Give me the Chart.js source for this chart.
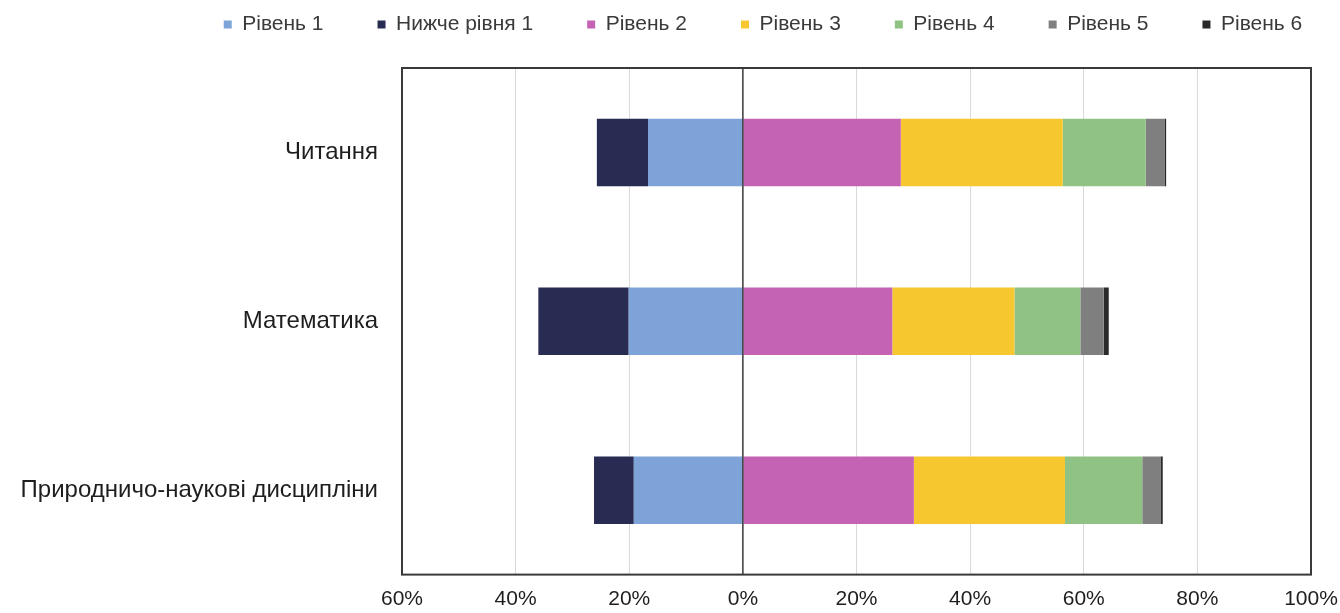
<!DOCTYPE html>
<html>
<head>
<meta charset="utf-8">
<title>Рівні досягнень</title>
<script src="https://cdn.jsdelivr.net/npm/chart.js@4/dist/chart.umd.min.js"></script>
<style>
  html, body { margin: 0; padding: 0; background: #fff; }
  #wrap { width: 1340px; height: 613px; }
</style>
</head>
<body>
<div id="wrap"><canvas id="levelsChart"></canvas></div>
<script>
// Categories and shares (%); left side is negative
const subjects = ['Читання', 'Математика', 'Природничо-наукові дисципліни'];
const level1 = [-16.7, -20.1, -19.2];
const belowLevel1 = [-9.0, -15.9, -7.0];
const level2 = [27.8, 26.3, 30.1];
const level3 = [28.5, 21.5, 26.6];
const level4 = [14.6, 11.6, 13.6];
const level5 = [3.3, 4.1, 3.2];
const level6 = [0.3, 0.9, 0.4];
const xTicks = [-60, -40, -20, 0, 20, 40, 60, 80, 100];

const fontFamily = 'Arial, "Liberation Sans", sans-serif';

// Draws the frame round the plot area and the zero line
const frame = {
    id: 'frame',
    afterDraw(chart) {
        const a = chart.chartArea;
        const ctx = chart.ctx;
        ctx.save();
        ctx.strokeStyle = '#3a3a3a';
        ctx.lineWidth = 2;
        ctx.strokeRect(a.left, a.top, a.right - a.left, a.bottom - a.top);
        const x0 = chart.scales.x.getPixelForValue(0);
        ctx.lineWidth = 1.5;
        ctx.beginPath();
        ctx.moveTo(x0, a.top);
        ctx.lineTo(x0, a.bottom);
        ctx.stroke();
        ctx.restore();
    }
};

// Nudges the legend box so it sits like in the original
const legendShift = {
    id: 'legendShift',
    afterLayout(chart) {
        const lg = chart.legend;
        if (!lg) return;
        lg.left += 93;
        lg.right += 93;
        lg.top -= 23;
        lg.bottom -= 23;
    }
};

function makeSet(label, data, color) {
    return {
        label: label,
        data: data,
        backgroundColor: color,
        borderWidth: 0,
        barPercentage: 0.4,
        categoryPercentage: 1
    };
}

const ctx = document.getElementById('levelsChart').getContext('2d');
new Chart(ctx, {
    type: 'bar',
    data: {
        labels: subjects,
        datasets: [
            makeSet('Рівень 1', level1, '#7ea3d8'),
            makeSet('Нижче рівня 1', belowLevel1, '#282b52'),
            makeSet('Рівень 2', level2, '#c463b3'),
            makeSet('Рівень 3', level3, '#f6c72f'),
            makeSet('Рівень 4', level4, '#90c283'),
            makeSet('Рівень 5', level5, '#7f7f7f'),
            makeSet('Рівень 6', level6, '#2a2a2a')
        ]
    },
    options: {
        indexAxis: 'y',
        responsive: true,
        maintainAspectRatio: false,
        animation: false,
        layout: {
            padding: { top: -17, right: 0, bottom: 0, left: 0 }
        },
        plugins: {
            tooltip: { enabled: false },
            legend: {
                position: 'top',
                labels: {
                    boxWidth: 8,
                    boxHeight: 8,
                    padding: 54,
                    color: '#3a3a3a',
                    font: { family: fontFamily, size: 21 }
                }
            }
        },
        scales: {
            x: {
                stacked: true,
                min: -60,
                max: 100,
                afterBuildTicks: (scale) => {
                    scale.ticks = xTicks.map(v => ({ value: v }));
                },
                afterFit: (scale) => {
                    scale.height = 37;
                    scale.paddingRight = 29;
                },
                ticks: {
                    color: '#1e1e1e',
                    padding: 12,
                    font: { family: fontFamily, size: 21 },
                    callback: (v) => Math.abs(v) + '%'
                },
                grid: {
                    color: '#dadada',
                    drawTicks: false
                },
                border: { display: false }
            },
            y: {
                stacked: true,
                afterFit: (scale) => { scale.width = 402; },
                ticks: {
                    color: '#1e1e1e',
                    padding: 24,
                    font: { family: fontFamily, size: 24 }
                },
                grid: { display: false, drawTicks: false },
                border: { display: false }
            }
        }
    },
    plugins: [frame, legendShift]
});
</script>
</body>
</html>
